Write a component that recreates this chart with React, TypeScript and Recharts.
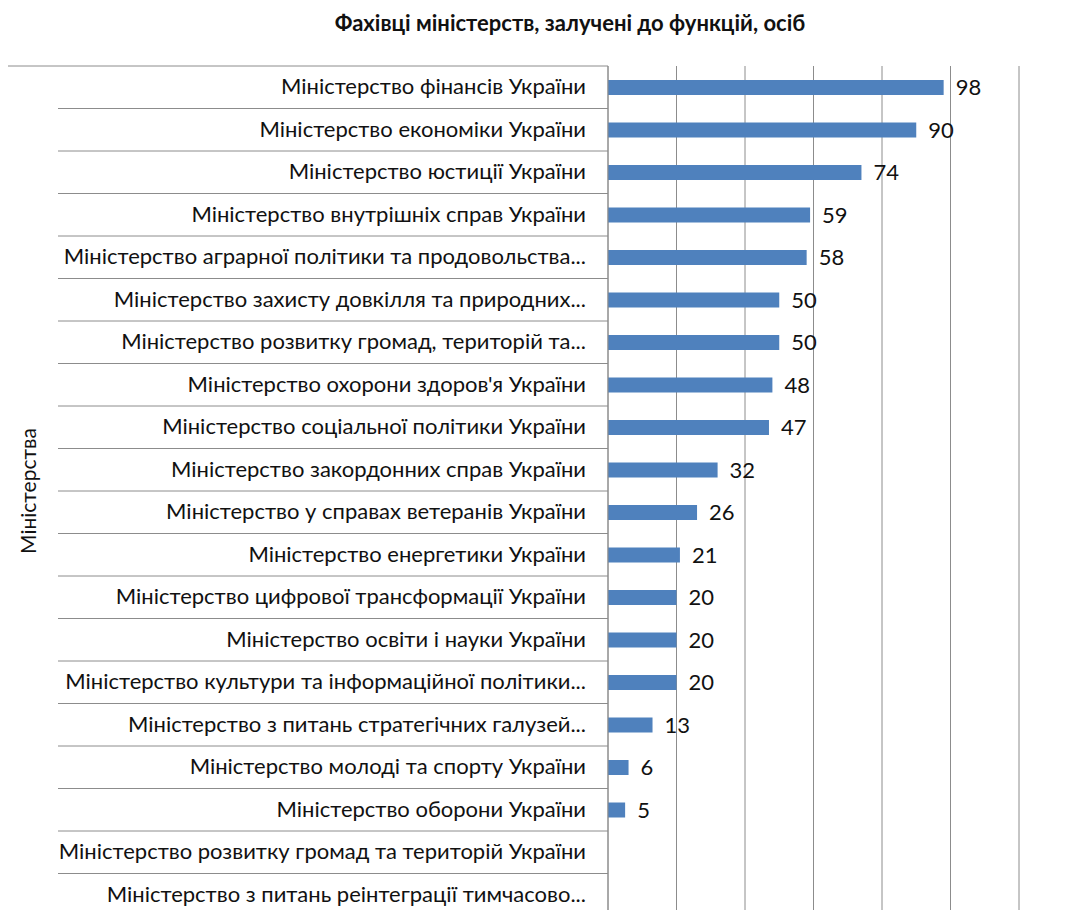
import { BarChart, Bar, CartesianGrid, XAxis, YAxis, LabelList } from "recharts";

const ministries = [
  "Міністерство фінансів України",
  "Міністерство економіки України",
  "Міністерство юстиції України",
  "Міністерство внутрішніх справ України",
  "Міністерство аграрної політики та продовольства...",
  "Міністерство захисту довкілля та природних...",
  "Міністерство розвитку громад, територій та...",
  "Міністерство охорони здоров'я України",
  "Міністерство соціальної політики України",
  "Міністерство закордонних справ України",
  "Міністерство у справах ветеранів України",
  "Міністерство енергетики України",
  "Міністерство цифрової трансформації України",
  "Міністерство освіти і науки України",
  "Міністерство культури та інформаційної політики...",
  "Міністерство з питань стратегічних галузей...",
  "Міністерство молоді та спорту України",
  "Міністерство оборони України",
  "Міністерство розвитку громад та територій України",
  "Міністерство з питань реінтеграції тимчасово...",
];

const specialists: (number | null)[] = [
  98, 90, 74, 59, 58, 50, 50, 48, 47, 32, 26, 21, 20, 20, 20, 13, 6, 5, null, null,
];

const xTicks = [0, 20, 40, 60, 80, 100, 120];

const data = ministries.map((name, i) => ({ name, value: specialists[i] }));

const FONT = "Lato, 'Open Sans', sans-serif";
const GRID = "#8c8c8c";

function CategoryTick(props: any) {
  const { x, y, payload, index } = props;
  const axisX = x + 22;
  const top = y - (payload.offset ?? 0);
  return (
    <g>
      <line x1={index === 0 ? 0 : 50} x2={axisX} y1={top} y2={top} stroke={GRID} strokeWidth={1} />
      <text x={x} y={y} dy={7} textAnchor="end" fontSize={22} fill="#111" fontFamily={FONT}>
        {payload.value}
      </text>
    </g>
  );
}

// value axis labels sit below the visible area in the reference
const HiddenTick = () => <g />;

export default function App() {
  return (
    <div style={{ position: "relative", width: 1062, height: 902, overflow: "hidden" }}>
      <div
        style={{
          position: "absolute",
          left: 562,
          top: 1,
          transform: "translateX(-50%)",
          whiteSpace: "nowrap",
          fontFamily: FONT,
          fontWeight: 700,
          fontSize: 22,
          color: "#111",
        }}
      >
        Фахівці міністерств, залучені до функцій, осіб
      </div>
      <BarChart
        width={1062}
        height={950}
        data={data}
        layout="vertical"
        margin={{ top: 58, right: 51, left: 0, bottom: 12 }}
        barCategoryGap={0}
      >
        <CartesianGrid stroke={GRID} horizontal={false} />
        <XAxis type="number" domain={[0, 120]} ticks={xTicks} height={30} axisLine={false} tickLine={false} tick={<HiddenTick />} />
        <YAxis
          type="category"
          dataKey="name"
          width={600}
          interval={0}
          tickSize={0}
          tickMargin={22}
          tickLine={false}
          axisLine={{ stroke: GRID }}
          tick={<CategoryTick />}
          label={{
            value: "Міністерства",
            angle: -90,
            position: "insideLeft",
            offset: 21,
            style: { textAnchor: "middle", fontSize: 21, fontFamily: FONT, fill: "#111" },
          }}
        />
        <Bar dataKey="value" fill="#4f81bd" barSize={15} isAnimationActive={false}>
          <LabelList dataKey="value" position="right" offset={12} fontSize={22} fill="#111" fontFamily={FONT} />
        </Bar>
      </BarChart>
    </div>
  );
}
